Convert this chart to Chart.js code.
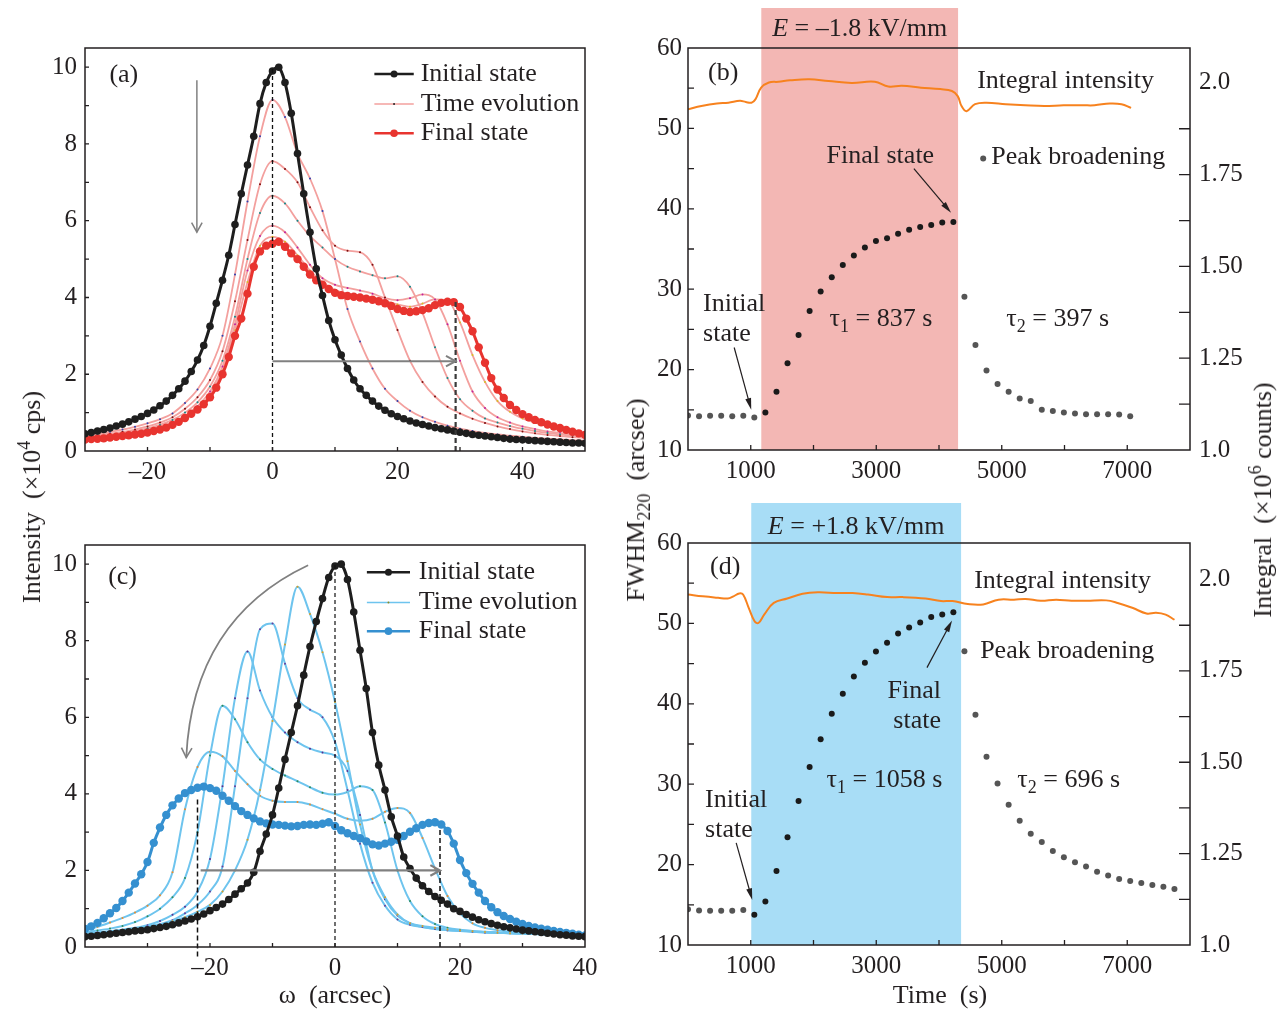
<!DOCTYPE html>
<html>
<head>
<meta charset="utf-8">
<title>Rocking curves and FWHM evolution under field</title>
<script src="https://cdn.jsdelivr.net/npm/chart.js@4.4.1/dist/chart.umd.min.js"></script>
<style>
  body { margin: 0; background: #fff; }
  #page { position: relative; width: 1287px; height: 1010px; overflow: hidden;
          font-family: "Liberation Serif", "Times New Roman", serif; color: #231f20; }
  canvas { position: absolute; }
  .title { position: absolute; font-size: 26px; white-space: nowrap; transform: translate(-50%, -50%); }
  .title.rot { transform: translate(-50%, -50%) rotate(-90deg); }
  .title sup, .title sub { font-size: 18px; line-height: 0; }
</style>
</head>
<body>
<div id="page">
  <canvas id="chartA" width="600" height="495" style="left:0;top:0"></canvas>
  <canvas id="chartC" width="600" height="495" style="left:0;top:497px"></canvas>
  <canvas id="chartB" width="687" height="495" style="left:600px;top:0"></canvas>
  <canvas id="chartD" width="687" height="495" style="left:600px;top:497px"></canvas>
  <div class="title rot" style="left:32px;top:497px">Intensity&nbsp;&nbsp;(×10<sup>4</sup> cps)</div>
  <div class="title" style="left:335px;top:995px">ω&nbsp;&nbsp;(arcsec)</div>
  <div class="title rot" style="left:636px;top:500px">FWHM<sub>220</sub>&nbsp;&nbsp;(arcsec)</div>
  <div class="title rot" style="left:1263px;top:500px">Integral&nbsp;&nbsp;(×10<sup>6</sup> counts)</div>
  <div class="title" style="left:940px;top:995px">Time&nbsp;&nbsp;(s)</div>
</div>
<script>
const FONT = '"Liberation Serif", "Times New Roman", serif';
const INK = '#231f20';
const BLACK = '#1e1e1e', RED = '#e8342f', PINK = '#f3a09e', BLUE = '#3590d0', SKY = '#6ec4ee';
const ORANGE = '#f7821e', GREY = '#808080';

// ---------- panel (a): E = -1.8 kV/mm rocking curves ----------
const omegaA = [-30,-29,-28,-27,-26,-25,-24,-23,-22,-21,-20,-19,-18,-17,-16,-15,-14,-13,-12,-11,
  -10,-9,-8,-7,-6,-5,-4,-3,-2,-1,0,1,2,3,4,5,6,7,8,9,10,11,12,13,14,15,16,17,18,19,20,
  21,22,23,24,25,26,27,28,29,30,31,32,33,34,35,36,37,38,39,40,41,42,43,44,45,46,47,48,49,50];
const omegaA2 = [-30,-28,-26,-24,-22,-20,-18,-16,-14,-12,-10,-8,-6,-4,-2,0,2,4,6,8,10,
  12,14,16,18,20,22,24,26,28,30,32,34,36,38,40,42,44,46,48,50];
const initA = [0.45,0.48,0.52,0.56,0.6,0.65,0.7,0.76,0.83,0.9,0.98,1.07,1.18,1.3,1.45,1.62,1.82,2.07,2.37,2.75,
  3.25,3.85,4.45,5.1,5.9,6.7,7.45,8.2,9.05,9.6,9.9,10.0,9.6,8.8,7.75,6.7,5.7,4.75,4.05,3.4,2.9,
  2.5,2.15,1.85,1.62,1.45,1.3,1.17,1.06,0.97,0.9,0.84,0.78,0.73,0.69,0.65,0.61,0.58,0.55,0.52,0.49,
  0.46,0.43,0.41,0.39,0.37,0.35,0.33,0.31,0.3,0.29,0.28,0.27,0.26,0.25,0.24,0.23,0.22,0.21,0.21,0.2];
const finalA = [0.3,0.31,0.32,0.33,0.35,0.37,0.39,0.41,0.43,0.45,0.48,0.52,0.56,0.61,0.68,0.76,0.86,0.97,1.08,1.22,
  1.4,1.65,2.0,2.45,3.0,3.45,4.1,4.8,5.2,5.35,5.4,5.45,5.32,5.15,5.0,4.8,4.6,4.45,4.33,4.22,4.12,
  4.06,4.04,4.02,4.0,3.97,3.94,3.9,3.85,3.78,3.7,3.65,3.62,3.64,3.67,3.72,3.8,3.86,3.89,3.88,3.75,
  3.45,3.12,2.7,2.3,1.9,1.6,1.38,1.2,1.07,0.96,0.88,0.81,0.75,0.69,0.64,0.6,0.55,0.5,0.46,0.42];
const evoA1 = [0.42,0.45,0.5,0.56,0.63,0.72,0.83,0.98,1.25,1.6,2.15,3.0,4.6,6.5,8.2,9.15,
  8.7,7.75,7.1,6.25,5.0,3.7,2.85,2.15,1.62,1.3,1.05,0.88,0.76,0.66,0.58,0.52,0.47,0.43,0.4,0.37,0.34,0.32,0.3,0.28,0.27];
const evoA2 = [0.38,0.41,0.45,0.5,0.56,0.64,0.74,0.88,1.1,1.4,1.85,2.6,3.9,5.5,6.95,7.55,
  7.35,7.0,6.35,5.75,5.35,5.22,5.18,4.85,4.0,3.15,2.35,1.8,1.42,1.15,0.98,0.84,0.73,0.64,0.57,0.51,0.46,0.42,0.39,0.36,0.34];
const evoA3 = [0.36,0.39,0.42,0.47,0.52,0.59,0.68,0.81,1.0,1.27,1.68,2.35,3.5,5.0,6.2,6.65,
  6.45,6.0,5.6,5.3,5.0,4.8,4.68,4.58,4.5,4.55,4.28,3.6,2.7,1.9,1.35,1.05,0.85,0.74,0.65,0.58,0.52,0.47,0.43,0.4,0.37];
const evoA4 = [0.34,0.37,0.4,0.44,0.49,0.55,0.63,0.75,0.92,1.17,1.55,2.2,3.3,4.7,5.6,5.87,
  5.7,5.3,4.85,4.5,4.33,4.25,4.18,4.1,3.98,3.93,3.98,4.08,3.95,3.3,2.35,1.55,1.12,0.88,0.74,0.64,0.57,0.51,0.47,0.43,0.4];
const evoA5 = [0.32,0.34,0.37,0.41,0.45,0.51,0.59,0.7,0.86,1.1,1.47,2.1,3.15,4.4,5.35,5.58,
  5.45,5.1,4.7,4.4,4.2,4.1,4.05,4.0,3.92,3.82,3.76,3.84,3.95,3.92,3.35,2.5,1.8,1.3,1.02,0.85,0.74,0.65,0.58,0.52,0.47];
const evoA = [evoA1, evoA2, evoA3, evoA4, evoA5];
const evoDotsA = ['#2b3fb0', '#7a0d0d', '#0a8a8a', '#c020a0', '#d8c020'];

// ---------- panel (c): E = +1.8 kV/mm rocking curves ----------
const omegaC = [-40,-39,-38,-37,-36,-35,-34,-33,-32,-31,-30,-29,-28,-27,-26,-25,-24,-23,-22,-21,
  -20,-19,-18,-17,-16,-15,-14,-13,-12,-11,-10,-9,-8,-7,-6,-5,-4,-3,-2,-1,0,
  1,2,3,4,5,6,7,8,9,10,11,12,13,14,15,16,17,18,19,20,21,22,23,24,25,26,27,28,29,30,
  31,32,33,34,35,36,37,38,39,40];
const omegaC2 = [-40,-38,-36,-34,-32,-30,-28,-26,-24,-22,-20,-18,-16,-14,-12,-10,-8,-6,-4,-2,0,
  2,4,6,8,10,12,14,16,18,20,22,24,26,28,30,32,34,36,38,40];
const initC = [0.27,0.28,0.3,0.32,0.34,0.36,0.38,0.4,0.42,0.43,0.45,0.48,0.51,0.54,0.58,0.63,0.68,0.73,0.79,0.86,
  0.95,1.03,1.12,1.24,1.38,1.52,1.67,1.95,2.5,2.95,3.45,4.15,4.9,5.6,6.3,7.1,7.85,8.5,9.1,9.65,9.95,
  10.0,9.6,8.75,7.75,6.75,5.6,4.75,4.1,3.4,2.9,2.35,2.05,1.8,1.6,1.45,1.32,1.22,1.12,1.0,0.93,
  0.85,0.78,0.71,0.66,0.61,0.57,0.53,0.5,0.47,0.44,0.42,0.4,0.38,0.36,0.34,0.32,0.31,0.29,0.28,0.27];
const finalC = [0.47,0.54,0.63,0.75,0.88,1.02,1.2,1.42,1.66,1.9,2.22,2.72,3.12,3.45,3.7,3.88,4.02,4.1,4.16,4.19,
  4.15,4.08,3.95,3.82,3.68,3.55,3.45,3.36,3.28,3.23,3.2,3.19,3.17,3.15,3.16,3.19,3.2,3.19,3.22,3.26,3.16,
  3.05,2.97,2.9,2.84,2.76,2.68,2.65,2.7,2.75,2.8,2.9,3.01,3.1,3.19,3.24,3.26,3.2,3.03,2.7,2.27,
  1.93,1.65,1.42,1.2,1.04,0.91,0.81,0.73,0.66,0.6,0.55,0.51,0.48,0.45,0.42,0.39,0.37,0.35,0.32,0.3];
const evoC1 = [0.33,0.35,0.38,0.41,0.45,0.5,0.58,0.67,0.78,0.92,1.1,1.45,2.0,2.8,4.1,5.9,7.9,9.41,
  8.7,7.7,6.4,4.85,3.2,2.0,1.3,0.85,0.62,0.55,0.5,0.46,0.43,0.41,0.39,0.37,0.36,0.35,0.34,0.33,0.32,0.31,0.3];
const evoC2 = [0.34,0.36,0.39,0.42,0.47,0.53,0.6,0.7,0.88,1.1,1.45,2.1,4.2,6.5,8.3,8.45,
  7.4,6.5,6.2,6.0,5.36,4.1,2.7,1.68,1.08,0.72,0.58,0.52,0.47,0.44,0.42,0.4,0.38,0.37,0.36,0.35,0.34,0.33,0.32,0.31,0.3];
const evoC3 = [0.36,0.38,0.41,0.45,0.5,0.57,0.68,0.84,1.05,1.45,2.3,4.2,6.5,7.72,
  6.7,6.0,5.6,5.35,5.18,5.08,5.0,4.6,3.45,2.0,1.25,0.82,0.62,0.52,0.47,0.44,0.42,0.4,0.38,0.37,0.36,0.35,0.34,0.33,0.32,0.31,0.3];
const evoC4 = [0.39,0.43,0.48,0.55,0.65,0.8,1.0,1.3,1.8,3.0,5.0,6.3,
  5.95,5.35,4.9,4.65,4.48,4.33,4.17,4.03,3.98,4.05,4.2,4.1,3.25,2.0,1.2,0.8,0.6,0.5,0.45,0.42,0.4,0.38,0.37,0.36,0.35,0.34,0.33,0.32,0.31];
const evoC5 = [0.45,0.53,0.64,0.76,0.9,1.08,1.35,1.95,3.6,4.7,5.1,
  4.98,4.6,4.25,3.95,3.82,3.79,3.79,3.72,3.6,3.48,3.35,3.3,3.35,3.53,3.63,3.5,2.85,2.05,1.33,0.88,0.62,0.5,0.44,0.4,0.38,0.36,0.35,0.34,0.32,0.31];
const evoC = [evoC1, evoC2, evoC3, evoC4, evoC5];
const evoDotsC = ['#d8a020', '#6a3d9a', '#5b2c8f', '#2e8b57', '#f08a24'];

// ---------- panel (b): FWHM and integral, E = -1.8 kV/mm ----------
const fieldB = [1168, 4304];
const timeB = [0,176,352,529,705,881,1057,1233,1410,1586,1762,1938,2114,2291,2467,2643,2819,
  2995,3172,3348,3524,3700,3876,4052,4229,4405,4581,4757,4933,5110,5286,5462,5638,5814,5990,
  6167,6343,6519,6695,6871,7047];
const fwhmB = [14.3,14.2,14.25,14.25,14.2,14.25,14.05,
  14.65,17.25,20.8,24.3,27.3,29.7,31.5,33.0,34.2,35.2,36.0,36.35,36.9,37.4,37.75,38.0,38.3,38.35,
  29.05,23.05,19.9,18.2,17.25,16.4,16.1,15.0,14.85,14.65,14.55,14.45,14.45,14.45,14.4,14.2];
const tIntB = [0,214,460,644,828,920,1012,1074,1166,1289,1442,1626,1933,2240,2609,2977,3192,3407,
  3714,4021,4206,4298,4359,4439,4574,4758,5065,5372,5679,5987,6294,6478,6723,6908,7061];
const intB = [1.928,1.937,1.944,1.946,1.951,1.948,1.946,1.955,1.987,2.001,2.003,2.007,2.01,2.005,
  2.0,2.003,1.99,1.992,1.987,1.983,1.978,1.964,1.937,1.923,1.942,1.946,1.942,1.939,1.937,1.939,
  1.939,1.939,1.944,1.942,1.932];

// ---------- panel (d): FWHM and integral, E = +1.8 kV/mm ----------
const fieldD = [1008, 4352];
const timeD = [0,176,352,529,705,881,1057,1233,1410,1586,1762,1938,2114,2291,2467,2643,2819,
  2995,3172,3348,3524,3700,3876,4052,4229,4405,4581,4757,4933,5110,5286,5462,5638,5814,5990,
  6167,6343,6519,6695,6871,7047,7224,7400,7576,7752];
const fwhmD = [14.45,14.3,14.25,14.25,14.25,14.35,13.75,
  15.4,19.2,23.4,27.9,32.15,35.6,38.75,41.25,43.4,45.1,46.5,47.6,48.75,49.5,50.1,50.8,51.1,51.4,
  46.55,38.65,33.4,30.1,27.45,25.45,23.85,22.8,21.7,20.9,20.3,19.75,19.1,18.65,18.2,17.95,17.7,17.45,17.25,16.95];
const tIntD = [0,235,480,633,725,816,878,969,1061,1122,1214,1367,1582,1826,2071,2377,2622,2867,3173,
  3418,3786,4031,4214,4459,4704,4949,5194,5377,5622,5867,6112,6357,6663,6847,7091,7306,7459,7612,7753];
const intD = [1.959,1.954,1.95,1.948,1.954,1.962,1.959,1.922,1.886,1.881,1.904,1.936,1.948,1.961,
  1.965,1.963,1.963,1.959,1.952,1.952,1.948,1.941,1.941,1.933,1.932,1.945,1.945,1.947,1.942,1.945,
  1.942,1.942,1.943,1.936,1.922,1.907,1.909,1.904,1.89];

// ---------- tick values ----------
const ticksOmega = [-20, 0, 20, 40];
const minorOmegaA = [-20, -10, 0, 10, 20, 30, 40];
const minorOmegaC = [-30, -20, -10, 0, 10, 20, 30];
const ticksInt = [0, 2, 4, 6, 8, 10];
const minorInt = [1, 2, 3, 4, 5, 6, 7, 8, 9, 10];
const ticksTime = [1000, 3000, 5000, 7000];
const minorTime = [1000, 2000, 3000, 4000, 5000, 6000, 7000];
const ticksFwhm = [10, 20, 30, 40, 50, 60];
const minorFwhm = [15, 20, 25, 30, 35, 40, 45, 50, 55];
const ticksIntg = [1.0, 1.25, 1.5, 1.75, 2.0];
const ticksIntgLabels = ['1.0', '1.25', '1.50', '1.75', '2.0'];
const minorIntg = [1.125, 1.25, 1.375, 1.5, 1.625, 1.75, 1.875];

// ---------- helpers ----------
const endash = v => String(v).replace('-', '\u2013');
const pts = (xs, ys) => ys.map((v, i) => ({ x: xs[i], y: v }));

function axis(pos, min, max, ticks, size, pad, fmt) {
  return {
    type: 'linear', position: pos, min, max,
    afterBuildTicks: s => { s.ticks = ticks.map(v => ({ value: v })); },
    afterFit: s => {
      if (pos === 'bottom') s.height = size; else s.width = size;
      s.paddingLeft = s.paddingRight = s.paddingTop = s.paddingBottom = 0;
    },
    grid: { display: false, drawTicks: false },
    border: { display: false },
    ticks: { color: INK, font: { family: FONT, size: 25 }, padding: pad,
             autoSkip: false, maxRotation: 0, callback: fmt || endash }
  };
}

function curve(xs, ys, color, width, r, dot, extra) {
  return Object.assign({
    data: pts(xs, ys), borderColor: color, borderWidth: width,
    pointRadius: r, pointBackgroundColor: dot || color, pointBorderWidth: 0,
    tension: 0.3, showLine: true
  }, extra || {});
}

function frame(c) {
  const a = c.chartArea, ctx = c.ctx;
  ctx.save(); ctx.strokeStyle = INK; ctx.lineWidth = 1.5;
  ctx.strokeRect(a.left, a.top, a.right - a.left, a.bottom - a.top);
  ctx.restore();
}

function inTicks(c, id, vals, len, side) {
  const s = c.scales[id], a = c.chartArea, ctx = c.ctx;
  ctx.save(); ctx.strokeStyle = INK; ctx.lineWidth = 1.3; ctx.beginPath();
  vals.forEach(v => {
    const p = s.getPixelForValue(v);
    if (side === 'bottom') { ctx.moveTo(p, a.bottom); ctx.lineTo(p, a.bottom - len); }
    if (side === 'left') { ctx.moveTo(a.left, p); ctx.lineTo(a.left + len, p); }
    if (side === 'right') { ctx.moveTo(a.right, p); ctx.lineTo(a.right - len, p); }
  });
  ctx.stroke(); ctx.restore();
}

function rich(ctx, parts, x, y, align) {
  const fontOf = p => (p.it ? 'italic ' : '') + (p.sub ? 18 : 26) + 'px ' + FONT;
  let w = 0;
  parts.forEach(p => { ctx.font = fontOf(p); w += ctx.measureText(p.t).width; });
  let cx = align === 'center' ? x - w / 2 : align === 'right' ? x - w : x;
  ctx.save(); ctx.fillStyle = INK; ctx.textBaseline = 'middle'; ctx.textAlign = 'left';
  parts.forEach(p => {
    ctx.font = fontOf(p);
    ctx.fillText(p.t, cx, y + (p.sub ? 8 : 0));
    cx += ctx.measureText(p.t).width;
  });
  ctx.restore();
}
const label = (ctx, t, x, y, align) => rich(ctx, [{ t }], x, y, align);

function seg(ctx, x1, y1, x2, y2, color, w, dash) {
  ctx.save(); ctx.strokeStyle = color; ctx.lineWidth = w; ctx.setLineDash(dash || []);
  ctx.beginPath(); ctx.moveTo(x1, y1); ctx.lineTo(x2, y2); ctx.stroke(); ctx.restore();
}

function chevron(ctx, x, y, ang, size, color, w) {
  ctx.save(); ctx.strokeStyle = color; ctx.lineWidth = w; ctx.beginPath();
  ctx.moveTo(x - size * Math.cos(ang - 0.5), y - size * Math.sin(ang - 0.5));
  ctx.lineTo(x, y);
  ctx.lineTo(x - size * Math.cos(ang + 0.5), y - size * Math.sin(ang + 0.5));
  ctx.stroke(); ctx.restore();
}

function arrow(ctx, x1, y1, x2, y2, color, w, size) {
  seg(ctx, x1, y1, x2, y2, color, w);
  chevron(ctx, x2, y2, Math.atan2(y2 - y1, x2 - x1), size, color, w);
}

function pointer(ctx, x1, y1, x2, y2) {
  const ang = Math.atan2(y2 - y1, x2 - x1), L = 12, h = 0.25;
  ctx.save(); ctx.strokeStyle = INK; ctx.fillStyle = INK; ctx.lineWidth = 1.2;
  ctx.beginPath(); ctx.moveTo(x1, y1);
  ctx.lineTo(x2 - L * 0.8 * Math.cos(ang), y2 - L * 0.8 * Math.sin(ang)); ctx.stroke();
  ctx.beginPath(); ctx.moveTo(x2, y2);
  ctx.lineTo(x2 - L * Math.cos(ang - h), y2 - L * Math.sin(ang - h));
  ctx.lineTo(x2 - L * Math.cos(ang + h), y2 - L * Math.sin(ang + h));
  ctx.closePath(); ctx.fill(); ctx.restore();
}

function dot(ctx, x, y, r, color) {
  ctx.save(); ctx.fillStyle = color; ctx.beginPath(); ctx.arc(x, y, r, 0, Math.PI * 2); ctx.fill(); ctx.restore();
}

function legend(ctx, x1, x2, tx, ys, items) {
  items.forEach((it, i) => {
    seg(ctx, x1, ys[i], x2, ys[i], it.color, it.width);
    if (it.r) dot(ctx, (x1 + x2) / 2, ys[i], it.r, it.dot || it.color);
    label(ctx, it.label, tx, ys[i]);
  });
}

function bandPlugin(field, color, sign, lift) {
  return {
    id: 'band',
    beforeDatasetsDraw(c) {
      const ctx = c.ctx, a = c.chartArea, s = c.scales.x;
      const x1 = s.getPixelForValue(field[0]), x2 = s.getPixelForValue(field[1]);
      ctx.save(); ctx.fillStyle = color;
      ctx.fillRect(x1, a.top - 40, x2 - x1, a.bottom - a.top + 40);
      ctx.restore();
      rich(ctx, [{ t: 'E', it: true }, { t: ' = ' + sign + '1.8 kV/mm' }], (x1 + x2) / 2, a.top - lift, 'center');
    }
  };
}

function makeChart(id, pad, scales, datasets, plugins) {
  return new Chart(document.getElementById(id), {
    type: 'line',
    data: { datasets },
    options: {
      responsive: false, animation: false, events: [],
      layout: { padding: pad },
      plugins: { legend: { display: false }, tooltip: { enabled: false } },
      scales
    },
    plugins
  });
}

// ---------- (a) ----------
makeChart('chartA', { left: 0, right: 15, top: 48, bottom: 0 }, {
  x: axis('bottom', -30, 50, ticksOmega, 44, 6),
  y: axis('left', 0, 10.5, ticksInt, 85, 8)
}, [
  curve(omegaA, initA, BLACK, 3, 3.8),
  curve(omegaA, finalA, RED, 3, 4.2),
  ...evoA.map((ys, i) => curve(omegaA2, ys, PINK, 1.8, 1, evoDotsA[i],
    { tension: 0, cubicInterpolationMode: 'monotone' }))
], [{
  id: 'decorA',
  afterDatasetsDraw(c) {
    const ctx = c.ctx, X = v => c.scales.x.getPixelForValue(v), Y = v => c.scales.y.getPixelForValue(v);
    seg(ctx, X(0), Y(0), X(0), Y(9.95), '#111', 1.3, [4, 3]);
    seg(ctx, X(29.3), Y(0), X(29.3), Y(3.88), '#3a3a3a', 2.2, [5, 3]);
    arrow(ctx, X(0), Y(2.34), X(29.3), Y(2.34), GREY, 2, 11);
    arrow(ctx, X(-12.1), Y(9.66), X(-12.1), Y(5.7), GREY, 1.5, 11);
    frame(c);
    inTicks(c, 'x', minorOmegaA, 4, 'bottom');
    inTicks(c, 'y', minorInt, 4, 'left');
    label(ctx, '(a)', X(-26.1), Y(9.8));
    legend(ctx, X(16.3), X(22.6), X(23.7), [Y(9.82), Y(9.04), Y(8.28)], [
      { label: 'Initial state', color: BLACK, width: 2.5, r: 3.5 },
      { label: 'Time evolution', color: PINK, width: 1.5, r: 1, dot: '#222' },
      { label: 'Final state', color: RED, width: 2.5, r: 3.8 }
    ]);
  }
}]);

// ---------- (c) ----------
makeChart('chartC', { left: 0, right: 15, top: 48, bottom: 0 }, {
  x: axis('bottom', -40, 40, ticksOmega, 45, 6),
  y: axis('left', 0, 10.5, ticksInt, 85, 8)
}, [
  curve(omegaC, initC, BLACK, 3, 3.8),
  curve(omegaC, finalC, BLUE, 3, 4.2),
  ...evoC.map((ys, i) => curve(omegaC2, ys, SKY, 2, 1, evoDotsC[i],
    { tension: 0, cubicInterpolationMode: 'monotone' }))
], [{
  id: 'decorC',
  afterDatasetsDraw(c) {
    const ctx = c.ctx, X = v => c.scales.x.getPixelForValue(v), Y = v => c.scales.y.getPixelForValue(v);
    seg(ctx, X(0), Y(0), X(0), Y(10), '#111', 1.2, [4, 3]);
    seg(ctx, X(-22), Y(-0.25), X(-22), Y(3.9), '#111', 1.5, [5, 3]);
    seg(ctx, X(16.8), Y(0), X(16.8), Y(3.1), '#111', 1.5, [5, 3]);
    arrow(ctx, X(-21.5), Y(2.0), X(16.8), Y(2.0), GREY, 2.2, 11);
    const p0 = [X(-4.3), Y(9.97)], cp = [X(-22.75), Y(8.55)], p2 = [X(-23.8), Y(4.95)];
    ctx.save(); ctx.strokeStyle = GREY; ctx.lineWidth = 1.8; ctx.beginPath();
    ctx.moveTo(p0[0], p0[1]); ctx.quadraticCurveTo(cp[0], cp[1], p2[0], p2[1]); ctx.stroke(); ctx.restore();
    chevron(ctx, p2[0], p2[1], Math.atan2(p2[1] - cp[1], p2[0] - cp[0]), 11, GREY, 1.6);
    frame(c);
    inTicks(c, 'x', minorOmegaC, 4, 'bottom');
    inTicks(c, 'y', minorInt, 4, 'left');
    label(ctx, '(c)', X(-36.3), Y(9.66));
    legend(ctx, X(5.1), X(12), X(13.4), [Y(9.79), Y(9.0), Y(8.25)], [
      { label: 'Initial state', color: BLACK, width: 2.5, r: 3.5 },
      { label: 'Time evolution', color: SKY, width: 1.6, r: 1, dot: '#8a8a20' },
      { label: 'Final state', color: BLUE, width: 2.5, r: 3.8 }
    ]);
  }
}]);

// ---------- (b) ----------
const inside = (field) => ctx => (ctx.raw && ctx.raw.x > field[0] && ctx.raw.x < field[1]) ? '#1a1a1a' : '#555';
const intgFmt = v => ticksIntgLabels[ticksIntg.indexOf(v)];

makeChart('chartB', { left: 0, right: 0, top: 48, bottom: 0 }, {
  x: axis('bottom', 0, 8000, ticksTime, 45, 6),
  y: axis('left', 10, 60, ticksFwhm, 88, 6),
  y1: axis('right', 1.0, 2.095, ticksIntg, 97, 9, intgFmt)
}, [
  curve(tIntB, intB, ORANGE, 2, 0, null, { yAxisID: 'y1', tension: 0.4 }),
  { data: pts(timeB, fwhmB), yAxisID: 'y', showLine: false, pointRadius: 3,
    pointBorderWidth: 0, pointBackgroundColor: inside(fieldB) }
], [bandPlugin(fieldB, '#f3b7b4', '\u2013', 19), {
  id: 'decorB',
  afterDatasetsDraw(c) {
    const ctx = c.ctx, X = v => c.scales.x.getPixelForValue(v), Y = v => c.scales.y.getPixelForValue(v);
    frame(c);
    inTicks(c, 'x', minorTime, 5, 'bottom');
    inTicks(c, 'y', minorFwhm, 6, 'left');
    inTicks(c, 'y1', minorIntg, 11, 'right');
    label(ctx, '(b)', X(320), Y(56.9));
    label(ctx, 'Integral intensity', X(4608), Y(55.9));
    label(ctx, 'Final state', X(2208), Y(46.6));
    pointer(ctx, X(3600), Y(45), X(4192), Y(39.5));
    dot(ctx, X(4704), Y(46.25), 3, '#555');
    label(ctx, 'Peak broadening', X(4832), Y(46.4));
    label(ctx, 'Initial', X(240), Y(28.1));
    label(ctx, 'state', X(240), Y(24.4));
    pointer(ctx, X(736), Y(22.75), X(1008), Y(15));
    rich(ctx, [{ t: '\u03c4' }, { t: '1', sub: true }, { t: ' = 837 s' }], X(2256), Y(26.25));
    rich(ctx, [{ t: '\u03c4' }, { t: '2', sub: true }, { t: ' = 397 s' }], X(5072), Y(26.25));
  }
}]);

// ---------- (d) ----------
makeChart('chartD', { left: 0, right: 0, top: 46, bottom: 0 }, {
  x: axis('bottom', 0, 8000, ticksTime, 47, 6),
  y: axis('left', 10, 60, ticksFwhm, 88, 6),
  y1: axis('right', 1.0, 2.1, ticksIntg, 97, 9, intgFmt)
}, [
  curve(tIntD, intD, ORANGE, 2, 0, null, { yAxisID: 'y1', tension: 0.4 }),
  { data: pts(timeD, fwhmD), yAxisID: 'y', showLine: false, pointRadius: 3,
    pointBorderWidth: 0, pointBackgroundColor: inside(fieldD) }
], [bandPlugin(fieldD, '#a8ddf6', '+', 16), {
  id: 'decorD',
  afterDatasetsDraw(c) {
    const ctx = c.ctx, X = v => c.scales.x.getPixelForValue(v), Y = v => c.scales.y.getPixelForValue(v);
    frame(c);
    inTicks(c, 'x', minorTime, 5, 'bottom');
    inTicks(c, 'y', minorFwhm, 6, 'left');
    inTicks(c, 'y1', minorIntg, 11, 'right');
    label(ctx, '(d)', X(352), Y(56.95));
    label(ctx, 'Integral intensity', X(4560), Y(55.3));
    label(ctx, 'Final', X(4032), Y(41.6), 'right');
    label(ctx, 'state', X(4032), Y(37.9), 'right');
    pointer(ctx, X(3808), Y(44.5), X(4208), Y(50.35));
    label(ctx, 'Peak broadening', X(4656), Y(46.5));
    label(ctx, 'Initial', X(272), Y(28.05));
    label(ctx, 'state', X(272), Y(24.3));
    pointer(ctx, X(768), Y(22.7), X(1024), Y(15.6));
    rich(ctx, [{ t: '\u03c4' }, { t: '1', sub: true }, { t: ' = 1058 s' }], X(2208), Y(30.55));
    rich(ctx, [{ t: '\u03c4' }, { t: '2', sub: true }, { t: ' = 696 s' }], X(5248), Y(30.55));
  }
}]);
</script>
</body>
</html>
